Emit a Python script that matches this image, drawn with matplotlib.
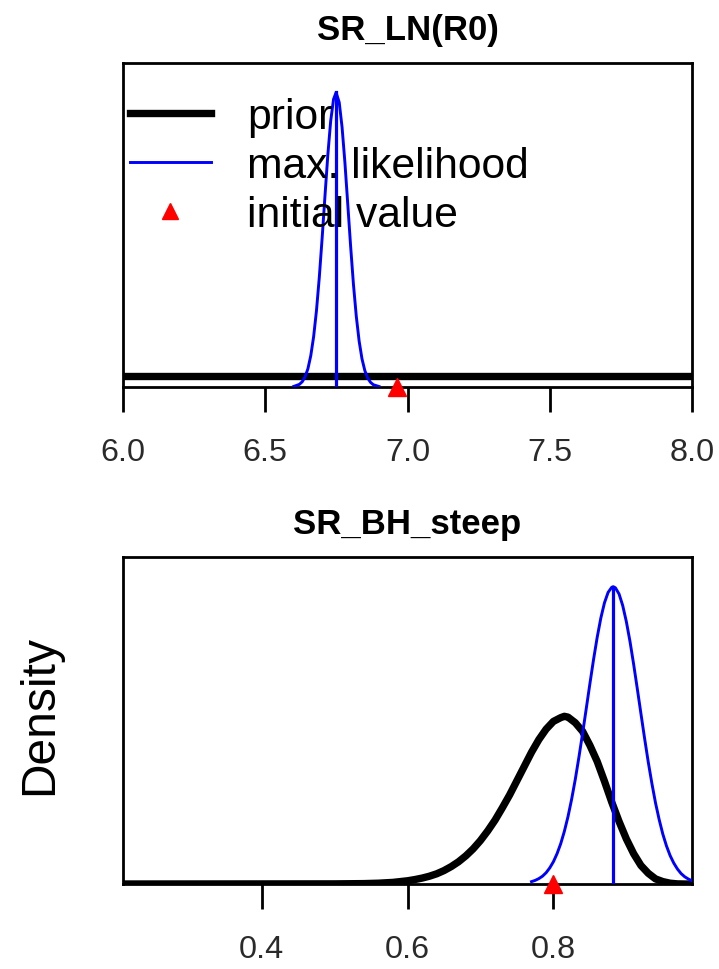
import matplotlib
matplotlib.use("Agg")
import matplotlib.pyplot as plt
from matplotlib.lines import Line2D

plt.rcParams['font.family'] = ['Liberation Sans', 'DejaVu Sans']

# ---- SR_LN(R0) panel ----
r0_title = "SR_LN(R0)"
r0_xlim = (6.0, 8.0)
r0_ticks = [6.0, 6.5, 7.0, 7.5, 8.0]
r0_ticklabels = ["6.0", "6.5", "7.0", "7.5", "8.0"]
r0_mle_x = [6.60, 6.62, 6.63, 6.64, 6.65, 6.66, 6.67, 6.68, 6.69, 6.70,
            6.71, 6.72, 6.73, 6.74, 6.749, 6.76, 6.77, 6.78, 6.79, 6.80,
            6.81, 6.82, 6.83, 6.84, 6.85, 6.86, 6.87, 6.88, 6.90]
r0_mle_dens = [0.018, 0.085, 0.17, 0.33, 0.59, 1.01, 1.62, 2.46, 3.54, 4.81,
               6.17, 7.49, 8.58, 9.28, 9.50, 9.18, 8.38, 7.24, 5.90, 4.55,
               3.31, 2.28, 1.48, 0.91, 0.53, 0.29, 0.15, 0.073, 0.015]
r0_prior_x = [6.0, 8.0]
r0_prior_dens = [0.36, 0.36]
r0_mle = 6.749
r0_mle_peak = 9.50
r0_init = 6.964

# ---- SR_BH_steep panel ----
h_title = "SR_BH_steep"
h_xlim = (0.21, 0.99)
h_ticks = [0.4, 0.6, 0.8]
h_ticklabels = ["0.4", "0.6", "0.8"]
h_prior_x = [0.21, 0.50, 0.54, 0.56, 0.58, 0.60, 0.61, 0.62, 0.63, 0.64,
             0.65, 0.66, 0.67, 0.68, 0.69, 0.70, 0.71, 0.72, 0.73, 0.74,
             0.75, 0.76, 0.77, 0.78, 0.79, 0.80, 0.81, 0.815, 0.82, 0.83,
             0.84, 0.85, 0.86, 0.87, 0.88, 0.89, 0.90, 0.91, 0.92, 0.93,
             0.94, 0.95, 0.96, 0.97, 0.98, 0.99]
h_prior_dens = [0.0, 0.005, 0.015, 0.03, 0.06, 0.12, 0.165, 0.22, 0.29, 0.38,
                0.50, 0.65, 0.83, 1.05, 1.31, 1.62, 1.98, 2.38, 2.84, 3.32,
                3.85, 4.38, 4.91, 5.38, 5.77, 6.06, 6.20, 6.25, 6.22, 6.01,
                5.69, 5.17, 4.57, 3.83, 3.05, 2.33, 1.68, 1.13, 0.69, 0.40,
                0.19, 0.09, 0.03, 0.005, 0.0, 0.0]
h_mle_x = [0.77, 0.775, 0.78, 0.785, 0.79, 0.795, 0.80, 0.805, 0.81, 0.815,
           0.82, 0.825, 0.83, 0.835, 0.84, 0.845, 0.85, 0.855, 0.86, 0.865,
           0.87, 0.875, 0.88, 0.882, 0.885, 0.89, 0.895, 0.90, 0.905, 0.91,
           0.915, 0.92, 0.925, 0.93, 0.935, 0.94, 0.945, 0.95, 0.955, 0.96,
           0.965, 0.97, 0.975, 0.98, 0.985, 0.99]
h_mle_dens = [0.088, 0.134, 0.20, 0.29, 0.42, 0.60, 0.83, 1.13, 1.50, 1.96,
              2.51, 3.16, 3.90, 4.73, 5.61, 6.53, 7.46, 8.36, 9.19, 9.91,
              10.48, 10.87, 11.06, 11.08, 11.04, 10.81, 10.38, 9.78, 9.04, 8.19,
              7.28, 6.35, 5.43, 4.55, 3.75, 3.02, 2.40, 1.86, 1.42, 1.06,
              0.78, 0.56, 0.39, 0.27, 0.185, 0.12]
h_mle = 0.882
h_mle_peak = 11.08
h_init = 0.80

legend_labels = ["prior", "max. likelihood", "initial value"]

W, H = 719, 970
fig = plt.figure(figsize=(W / 100, H / 100), dpi=100)


def panel(rect, title, xlim, ticks, ticklabels, px, pd_, mx, md, mle, peak, init):
    ax = fig.add_axes(rect)
    ax.plot(px, pd_, color="black", lw=5.3, solid_capstyle="butt",
            solid_joinstyle="round", zorder=2)
    ax.plot(mx, md, color="#0000FF", lw=2.1, solid_joinstyle="round", zorder=3)
    ax.plot([mle, mle], [0, peak], color="#0000FF", lw=2.3, zorder=3)
    ax.plot([init], [0], marker="^", color="#FF0000", ms=13, ls="none",
            clip_on=False, zorder=5)
    ax.set_xlim(*xlim)
    ax.set_ylim(0, 1.1 * peak)
    ax.set_yticks([])
    ax.set_xticks(ticks)
    ax.set_xticklabels(ticklabels)
    ax.tick_params(axis="x", direction="out", length=18, width=2, pad=18,
                   labelsize=23.3, labelcolor="#2a2a2a")
    for s in ax.spines.values():
        s.set_linewidth(2)
    ax.set_title(title, fontsize=25, fontweight="bold", pad=17)
    return ax


ax1 = panel([123 / W, 1 - 388 / H, 569 / W, 324 / H], r0_title, r0_xlim,
            r0_ticks, r0_ticklabels, r0_prior_x, r0_prior_dens, r0_mle_x,
            r0_mle_dens, r0_mle, r0_mle_peak, r0_init)
ax2 = panel([123 / W, 1 - 885 / H, 569 / W, 327 / H], h_title, h_xlim,
            h_ticks, h_ticklabels, h_prior_x, h_prior_dens, h_mle_x,
            h_mle_dens, h_mle, h_mle_peak, h_init)

handles = [Line2D([], [], color="black", lw=5.3),
           Line2D([], [], color="#0000FF", lw=2.1),
           Line2D([], [], color="#FF0000", marker="^", ms=11, ls="none")]
ax1.legend(handles, legend_labels, loc="upper left", bbox_to_anchor=(0.012, 0.895),
           frameon=False, fontsize=30.7, handlelength=1.9, handletextpad=0.85,
           labelspacing=0.21, borderpad=0, borderaxespad=0)

fig.text(40 / W, 1 - 715 / H, "Density", rotation=90, fontsize=34.5,
         ha="center", va="center")

fig.savefig("out.png", dpi=100)
